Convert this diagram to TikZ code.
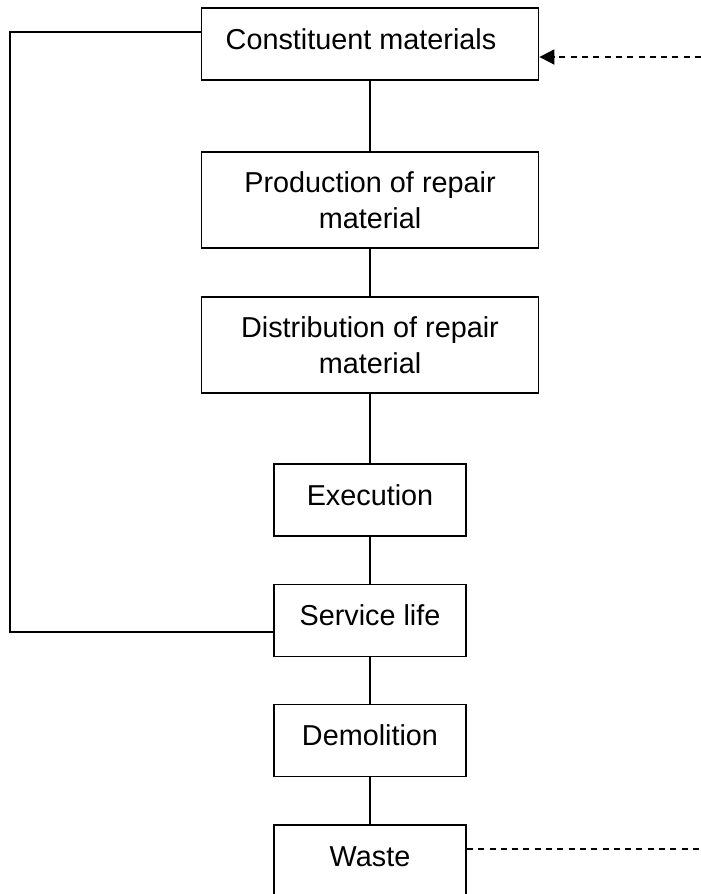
\documentclass[tikz,border=0pt]{standalone}
\usepackage{fontspec}
\setmainfont{Liberation Sans}
\usetikzlibrary{arrows.meta}
\begin{document}
\begin{tikzpicture}[x=1pt,y=-1pt,
  base/.style={draw, line width=1.8pt, inner sep=0pt, align=center, font=\fontsize{28.8}{36}\selectfont},
  wide/.style={base, minimum width=337pt, minimum height=72pt, text height=21pt, text depth=11pt},
  tall/.style={base, minimum width=337pt, minimum height=96pt},
  narrow/.style={base, minimum width=192pt, minimum height=72pt, text height=21pt, text depth=11pt},
  link/.style={line width=1.8pt},
  dashlink/.style={line width=1.8pt, dash pattern=on 6pt off 5.3pt}]
\useasboundingbox (0,0) rectangle (701,894);
\node[wide] (cons) at (370,44) {Constituent materials\hspace*{18pt}};
\node[tall] (prod) at (370,200) {Production of repair\\material};
\node[tall] (dist) at (370,345) {Distribution of repair\\material};
\node[narrow] (exec) at (370,500) {Execution};
\node[narrow] (serv) at (370,620.5) {Service life};
\node[narrow] (demo) at (370,740.5) {Demolition};
\node[narrow] (waste) at (370,861) {Waste};
\coordinate (fl1) at (10,32);
\coordinate (fl2) at (10,632);
\coordinate (ain) at (701,57);
\coordinate (aout) at (701,849);
\draw[link] (cons) -- (prod);
\draw[link] (prod) -- (dist);
\draw[link] (dist.south) -- (dist.south |- exec.north);
\draw[link] (exec) -- (serv);
\draw[link] (serv) -- (demo);
\draw[link] (demo) -- (waste);
\draw[link] (cons.west |- fl1) -- (fl1) -- (fl2) -- (serv.west |- fl2);
\draw[dashlink, -{Triangle[length=15pt,width=15pt]}] (ain) -- (cons.east |- ain);
\draw[dashlink] (waste.east |- aout) -- (aout);
\end{tikzpicture}
\end{document}
